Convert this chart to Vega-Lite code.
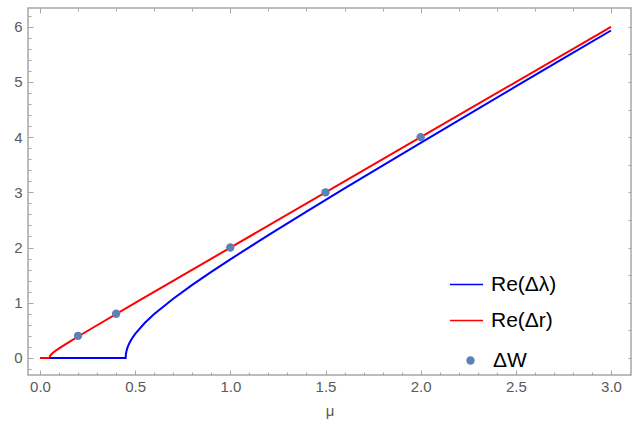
{
  "$schema": "https://vega.github.io/schema/vega-lite/v6.json",
  "width": 603,
  "height": 367,
  "padding": {"left": 28, "top": 8, "right": 5, "bottom": 57},
  "autosize": {"type": "none"},
  "background": "white",
  "config": {
    "view": {"stroke": "#a6a6a6", "strokeWidth": 1.5},
    "axis": {"domain": false, "grid": false, "labelFont": "Liberation Sans", "titleFont": "Liberation Sans", "labelColor": "#5a5a5a", "titleColor": "#5a5a5a", "tickColor": "#a6a6a6", "labelFontSize": 15, "titleFontSize": 15, "titleFontWeight": "normal"},
    "legend": {"labelFont": "Liberation Sans", "labelFontSize": 21, "labelColor": "#000000"}
  },
  "data": {
    "values": [
      {"mu": 0.0, "v": 0.0, "s": "Re(Δr)"},
      {"mu": 0.05, "v": 0.0, "s": "Re(Δr)"},
      {"mu": 0.052, "v": 0.0283, "s": "Re(Δr)"},
      {"mu": 0.055, "v": 0.0458, "s": "Re(Δr)"},
      {"mu": 0.06, "v": 0.0663, "s": "Re(Δr)"},
      {"mu": 0.07, "v": 0.098, "s": "Re(Δr)"},
      {"mu": 0.08, "v": 0.1249, "s": "Re(Δr)"},
      {"mu": 0.1, "v": 0.1732, "s": "Re(Δr)"},
      {"mu": 0.15, "v": 0.2828, "s": "Re(Δr)"},
      {"mu": 0.2, "v": 0.3873, "s": "Re(Δr)"},
      {"mu": 0.3, "v": 0.5916, "s": "Re(Δr)"},
      {"mu": 0.5, "v": 0.995, "s": "Re(Δr)"},
      {"mu": 1.0, "v": 1.9975, "s": "Re(Δr)"},
      {"mu": 2.0, "v": 3.9988, "s": "Re(Δr)"},
      {"mu": 3.0, "v": 5.9992, "s": "Re(Δr)"},
      {"mu": 0.05, "v": 0.0, "s": "Re(Δλ)"},
      {"mu": 0.45, "v": 0.0, "s": "Re(Δλ)"},
      {"mu": 0.451, "v": 0.06, "s": "Re(Δλ)"},
      {"mu": 0.455, "v": 0.1345, "s": "Re(Δλ)"},
      {"mu": 0.46, "v": 0.1908, "s": "Re(Δλ)"},
      {"mu": 0.47, "v": 0.2713, "s": "Re(Δλ)"},
      {"mu": 0.48, "v": 0.3341, "s": "Re(Δλ)"},
      {"mu": 0.5, "v": 0.4359, "s": "Re(Δλ)"},
      {"mu": 0.55, "v": 0.6325, "s": "Re(Δλ)"},
      {"mu": 0.6, "v": 0.7937, "s": "Re(Δλ)"},
      {"mu": 0.7, "v": 1.0724, "s": "Re(Δλ)"},
      {"mu": 0.8, "v": 1.3229, "s": "Re(Δλ)"},
      {"mu": 0.9, "v": 1.5588, "s": "Re(Δλ)"},
      {"mu": 1.0, "v": 1.7861, "s": "Re(Δλ)"},
      {"mu": 1.2, "v": 2.2249, "s": "Re(Δλ)"},
      {"mu": 1.4, "v": 2.6514, "s": "Re(Δλ)"},
      {"mu": 1.6, "v": 3.0708, "s": "Re(Δλ)"},
      {"mu": 1.8, "v": 3.4857, "s": "Re(Δλ)"},
      {"mu": 2.0, "v": 3.8974, "s": "Re(Δλ)"},
      {"mu": 2.25, "v": 4.4091, "s": "Re(Δλ)"},
      {"mu": 2.5, "v": 4.9183, "s": "Re(Δλ)"},
      {"mu": 2.75, "v": 5.4259, "s": "Re(Δλ)"},
      {"mu": 3.0, "v": 5.9321, "s": "Re(Δλ)"},
      {"mu": 0.2, "v": 0.4, "s": "ΔW"},
      {"mu": 0.4, "v": 0.8, "s": "ΔW"},
      {"mu": 1.0, "v": 2.0, "s": "ΔW"},
      {"mu": 1.5, "v": 3.0, "s": "ΔW"},
      {"mu": 2.0, "v": 4.0, "s": "ΔW"}
    ]
  },
  "layer": [
    {
      "transform": [{"filter": "datum.s != 'ΔW'"}],
      "mark": {"type": "line", "strokeWidth": 2, "clip": true},
      "encoding": {
        "x": {"field": "mu", "type": "quantitative", "scale": {"domain": [-0.063, 3.105], "nice": false, "zero": false},
              "axis": {"orient": "bottom", "values": [0, 0.5, 1, 1.5, 2, 2.5, 3], "format": ".1f", "ticks": false, "labelPadding": 4, "title": "μ", "titlePadding": 9}},
        "y": {"field": "v", "type": "quantitative", "scale": {"domain": [-0.31, 6.34], "nice": false, "zero": false},
              "axis": {"orient": "left", "values": [0, 1, 2, 3, 4, 5, 6], "format": "d", "ticks": false, "labelPadding": 6, "title": null}},
        "color": {"field": "s", "type": "nominal", "scale": {"domain": ["Re(Δλ)", "Re(Δr)"], "range": ["#0000ff", "#ff0000"]},
                  "legend": {"title": null, "orient": "none", "legendX": 421, "legendY": 259, "symbolType": "stroke", "symbolSize": 1100, "symbolStrokeWidth": 1.5, "rowPadding": 8, "labelOffset": 7}},
        "detail": {"field": "s"},
        "order": {"field": "mu"}
      }
    },
    {
      "transform": [{"filter": "datum.s == 'ΔW'"}],
      "mark": {"type": "circle", "size": 70, "opacity": 1},
      "encoding": {
        "x": {"field": "mu", "type": "quantitative",
              "axis": {"orient": "bottom", "values": [0, 0.5, 1, 1.5, 2, 2.5, 3], "labels": false, "tickSize": -5, "tickWidth": 1, "title": null}},
        "y": {"field": "v", "type": "quantitative",
              "axis": {"orient": "left", "values": [0, 1, 2, 3, 4, 5, 6], "labels": false, "tickSize": -5, "tickWidth": 1, "title": null}},
        "fill": {"field": "s", "type": "nominal", "scale": {"range": ["#5e81b5"]},
                 "legend": {"title": null, "orient": "none", "legendX": 432, "legendY": 342, "symbolType": "circle", "symbolSize": 70, "labelOffset": 12}}
      }
    },
    {
      "mark": {"type": "point", "opacity": 0},
      "encoding": {
        "x": {"field": "mu", "type": "quantitative",
              "axis": {"orient": "bottom", "values": [-0.1, 0.1, 0.2, 0.3, 0.4, 0.6, 0.7, 0.8, 0.9, 1.1, 1.2, 1.3, 1.4, 1.6, 1.7, 1.8, 1.9, 2.1, 2.2, 2.3, 2.4, 2.6, 2.7, 2.8, 2.9, 3.1], "labels": false, "tickSize": -3, "tickWidth": 1, "title": null}},
        "y": {"field": "v", "type": "quantitative",
              "axis": {"orient": "left", "values": [-0.2, 0.2, 0.4, 0.6, 0.8, 1.2, 1.4, 1.6, 1.8, 2.2, 2.4, 2.6, 2.8, 3.2, 3.4, 3.6, 3.8, 4.2, 4.4, 4.6, 4.8, 5.2, 5.4, 5.6, 5.8, 6.2], "labels": false, "tickSize": -3, "tickWidth": 1, "title": null}}
      }
    },
    {
      "mark": {"type": "point", "opacity": 0},
      "encoding": {
        "x": {"field": "mu", "type": "quantitative",
              "axis": {"orient": "top", "values": [0, 1, 2, 3], "labels": false, "tickSize": -5, "tickWidth": 1, "title": null}},
        "y": {"field": "v", "type": "quantitative",
              "axis": {"orient": "right", "values": [0, 0.5, 1, 1.5, 2, 2.5, 3, 3.5, 4, 4.5, 5, 5.5, 6], "labels": false, "tickSize": -3, "tickWidth": 1, "title": null}}
      }
    },
    {
      "mark": {"type": "point", "opacity": 0},
      "encoding": {
        "x": {"field": "mu", "type": "quantitative",
              "axis": {"orient": "top", "values": [0.2, 0.4, 0.6, 0.8, 1.2, 1.4, 1.6, 1.8, 2.2, 2.4, 2.6, 2.8], "labels": false, "tickSize": -3, "tickWidth": 1, "title": null}},
        "y": {"field": "v", "type": "quantitative", "axis": null}
      }
    }
  ],
  "resolve": {"axis": {"x": "independent", "y": "independent"}}
}
